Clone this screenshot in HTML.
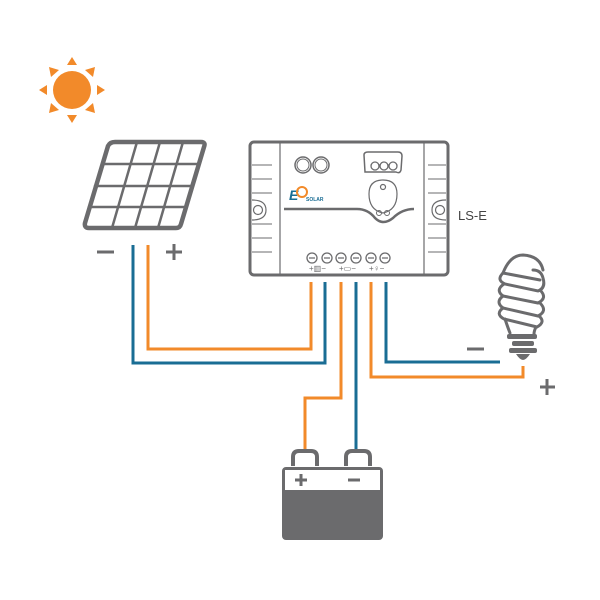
<!DOCTYPE html>
<html><head><meta charset="utf-8"><style>html,body{margin:0;padding:0;background:#fff}svg{display:block}</style></head>
<body>
<svg width="600" height="600" viewBox="0 0 600 600" xmlns="http://www.w3.org/2000/svg" font-family="Liberation Sans, sans-serif">
<!-- sun -->
<g fill="#f28a2a">
<circle cx="72" cy="90" r="19"/>
<polygon points="72,57 67,65 77,65"/>
<polygon points="72,123 67,115 77,115"/>
<polygon points="39,90 47,85 47,95"/>
<polygon points="105,90 97,85 97,95"/>
<polygon points="49,67 51,77 59,70"/>
<polygon points="95,67 93,77 85,70"/>
<polygon points="49,113 51,103 59,110"/>
<polygon points="95,113 93,103 85,110"/>
</g>
<!-- panel -->
<g stroke="#6b6b6d" fill="none" stroke-linecap="round">
<path d="M115,142 L201,142 Q206,142 204,147 L181,224 Q180,228 176,228 L89,228 Q84,228 85,223 L108,146 Q110,142 115,142 Z" stroke-width="4.5" stroke-linejoin="round"/>
<path d="M102,164 L199,164 M95,186 L192,186 M89,207 L186,207" stroke-width="2.5"/>
<path d="M137,142 L112,228 M160,142 L135,228 M183,142 L158,228" stroke-width="2.5"/>
</g>
<path d="M97,252 H114 M166,252 H182 M174,244 V260" stroke="#6b6b6d" stroke-width="3"/>
<!-- wires -->
<g fill="none" stroke-width="3">
<path d="M148,245 V349 H311 V282" stroke="#f28a2a"/>
<path d="M133,245 V363 H325 V282" stroke="#1a6d94"/>
<path d="M341,282 V398 H305 V451" stroke="#f28a2a"/>
<path d="M356,282 V451" stroke="#1a6d94"/>
<path d="M386,282 V362 H500" stroke="#1a6d94"/>
<path d="M371,282 V377 H523 V366" stroke="#f28a2a"/>
</g>
<path d="M467,349 H484 M540,387 H555 M547,379 V395" stroke="#6b6b6d" stroke-width="3"/>
<!-- controller -->
<g stroke="#6b6b6d" fill="none">
<rect x="250" y="142" width="198" height="133" rx="4" fill="#fff" stroke-width="3"/>
<path d="M280,143 V274 M424,143 V274" stroke-width="1.2"/>
<path d="M252,165 H272 M252,179 H272 M252,193 H272 M252,224 H272 M252,238 H272 M252,252 H272" stroke-width="1"/>
<path d="M428,165 H446 M428,179 H446 M428,193 H446 M428,224 H446 M428,238 H446 M428,252 H446" stroke-width="1"/>
<path d="M252,200 Q266,200 266,210 Q266,220 252,220" stroke-width="1.2"/>
<circle cx="258" cy="210" r="4.5" stroke-width="1.2"/>
<path d="M446,200 Q432,200 432,210 Q432,220 446,220" stroke-width="1.2"/>
<circle cx="440" cy="210" r="4.5" stroke-width="1.2"/>
<circle cx="303" cy="165" r="8" stroke-width="1.5"/><circle cx="303" cy="165" r="6" stroke-width="1"/>
<circle cx="321" cy="165" r="8" stroke-width="1.5"/><circle cx="321" cy="165" r="6" stroke-width="1"/>
<path d="M365,172 L364,155 Q364,152 368,152 L398,152 Q402,152 402,156 L401,170 Q400,174 396,172 Z" stroke-width="1.5"/>
<circle cx="375" cy="166" r="4" stroke-width="1.3"/><circle cx="384" cy="166" r="4" stroke-width="1.3"/><circle cx="393" cy="166" r="4" stroke-width="1.3"/>
<path d="M383,180 Q397,180 397,194 Q397,210 383,213 Q369,210 369,194 Q369,180 383,180 Z" stroke-width="1.2"/>
<circle cx="383" cy="187" r="2.5" stroke-width="1.2"/>
<path d="M284,209 H357 Q368,209 375,218 Q383,226 393,218 Q402,209 414,209" stroke-width="2.5"/>
<circle cx="379" cy="213" r="2.5" stroke-width="1"/><circle cx="387" cy="213" r="2.5" stroke-width="1"/>
<g stroke-width="1.3">
<circle cx="312" cy="258" r="5"/><circle cx="327" cy="258" r="5"/><circle cx="341" cy="258" r="5"/>
<circle cx="356" cy="258" r="5"/><circle cx="371" cy="258" r="5"/><circle cx="385" cy="258" r="5"/>
<path d="M309,258 H315 M324,258 H330 M338,258 H344 M353,258 H359 M368,258 H374 M382,258 H388"/>
</g>
</g>
<g fill="#6b6b6d" font-size="8">
<text x="309" y="271">+▥−</text><text x="339" y="271">+▭−</text><text x="369" y="271">+♀−</text>
</g>
<g>
<text x="289" y="200" font-size="14" font-weight="bold" fill="#1a6d94" font-style="italic">E</text>
<circle cx="302" cy="192" r="5" fill="none" stroke="#f28a2a" stroke-width="2"/>
<text x="306" y="201" font-size="5" fill="#1a6d94" font-weight="bold">SOLAR</text>
</g>
<text x="458" y="220" font-size="13" fill="#444">LS-E</text>
<!-- battery -->
<g fill="none" stroke="#6b6b6d" stroke-width="4">
<path d="M293,466 V457 Q293,451 299,451 H311 Q317,451 317,457 V466"/>
<path d="M346,466 V457 Q346,451 352,451 H364 Q370,451 370,457 V466"/>
</g>
<rect x="282" y="467" width="101" height="73" rx="4" fill="#6b6b6d"/>
<rect x="285" y="470" width="95" height="20" fill="#fff"/>
<path d="M295,480 H307 M301,474 V486 M348,480 H360" stroke="#6b6b6d" stroke-width="3"/>
<!-- bulb -->
<g fill="none" stroke="#6b6b6d" stroke-width="3" stroke-linecap="round">
<path d="M503,273 Q510,255 523,255 Q540,256 543,270"/>
<path d="M503,273 Q496,280 505,284 L538,291 Q546,288 543,278 Q541,270 533,270"/>
<path d="M503,273 L540,280"/>
<path d="M504,284 Q495,290 503,296 L538,303 Q548,298 540,290"/>
<path d="M503,296 Q495,302 503,308 L538,316 Q548,311 540,303"/>
<path d="M503,308 Q495,314 504,319 L537,327 Q546,322 539,316"/>
<path d="M505,319 Q508,328 510,333 M536,327 Q534,331 534,334"/>
</g>
<g fill="#6b6b6d">
<rect x="507" y="334" width="30" height="5" rx="2"/>
<rect x="512" y="341" width="22" height="5" rx="2"/>
<rect x="509" y="348" width="28" height="5" rx="2"/>
<path d="M516,354 H530 Q526,360 523,360 Q520,360 516,354 Z"/>
</g>
</svg>
</body></html>
